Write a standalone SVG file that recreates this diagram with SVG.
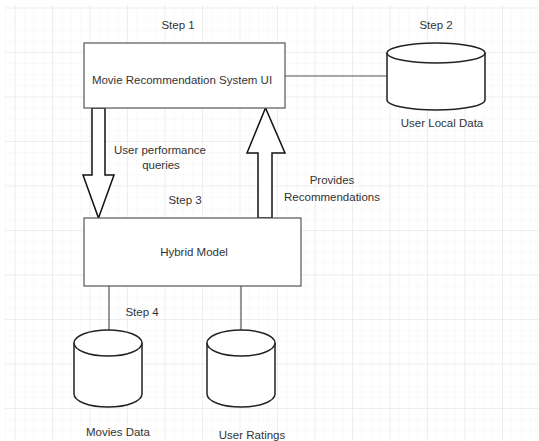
<svg xmlns="http://www.w3.org/2000/svg" width="539" height="441" viewBox="0 0 539 441">
  <defs>
    <pattern id="minor" patternUnits="userSpaceOnUse" x="14.5" y="7.5" width="9.375" height="11.125">
      <path d="M0 0 H9.375 M0 0 V11.125" fill="none" stroke="#f3f3f3" stroke-width="1"/>
    </pattern>
    <pattern id="major" patternUnits="userSpaceOnUse" x="14.5" y="7.5" width="37.5" height="44.5">
      <path d="M0 0 H37.5 M0 0 V44.5" fill="none" stroke="#e4e4e4" stroke-width="1"/>
    </pattern>
    <style>
      text { font-family: "Liberation Sans", Arial, sans-serif; font-size: 11.5px; fill: #333; text-anchor: middle; }
      .box { fill: #fff; stroke: #555; stroke-width: 1.2; }
      .db { fill: #fff; stroke: #222; stroke-width: 1.5; }
      .arrow { fill: #fff; stroke: #111; stroke-width: 1.5; stroke-linejoin: miter; }
      .link { fill: none; stroke: #555; stroke-width: 1.2; }
    </style>
  </defs>
  <rect width="539" height="441" fill="#fff"/>
  <rect x="5" y="5" width="534" height="436" fill="url(#minor)"/>
  <rect x="5" y="5" width="534" height="436" fill="url(#major)"/>

  <g id="connectors">
    <line class="link" x1="285" y1="76" x2="387" y2="76"/>
    <line class="link" x1="109" y1="286" x2="109" y2="330"/>
    <line class="link" x1="241" y1="286" x2="241" y2="330"/>
    <polygon class="arrow" points="92,108 105,108 105,175 114,175 98.5,218 83,175 92,175"/>
    <polygon class="arrow" points="258,218 272,218 272,153 285,153 265.5,108 247,153 258,153"/>
    <text x="160" y="154">User performance</text>
    <text x="161" y="169">queries</text>
    <text x="332" y="184">Provides</text>
    <text x="332" y="201">Recommendations</text>
  </g>

  <g id="ui">
    <rect class="box" x="84" y="43" width="201" height="65"/>
    <text x="182" y="84">Movie Recommendation System UI</text>
    <text x="178" y="29">Step 1</text>
  </g>

  <g id="user-local-data">
    <path class="db" d="M387 53 V100 A49 10 0 0 0 485 100 V53"/>
    <ellipse class="db" cx="436" cy="53" rx="49" ry="10"/>
    <text x="436" y="29">Step 2</text>
    <text x="442" y="127">User Local Data</text>
  </g>

  <g id="hybrid">
    <rect class="box" x="84" y="218" width="217" height="68"/>
    <text x="194" y="256">Hybrid Model</text>
    <text x="185" y="204">Step 3</text>
  </g>

  <g id="movies-data">
    <path class="db" d="M74 343 V394 A34 13 0 0 0 142 394 V343"/>
    <ellipse class="db" cx="108" cy="343" rx="34" ry="13"/>
    <text x="142" y="316">Step 4</text>
    <text x="118" y="436">Movies Data</text>
  </g>

  <g id="user-ratings">
    <path class="db" d="M207 343 V394 A34 13 0 0 0 275 394 V343"/>
    <ellipse class="db" cx="241" cy="343" rx="34" ry="13"/>
    <text x="252" y="439">User Ratings</text>
  </g>
</svg>
